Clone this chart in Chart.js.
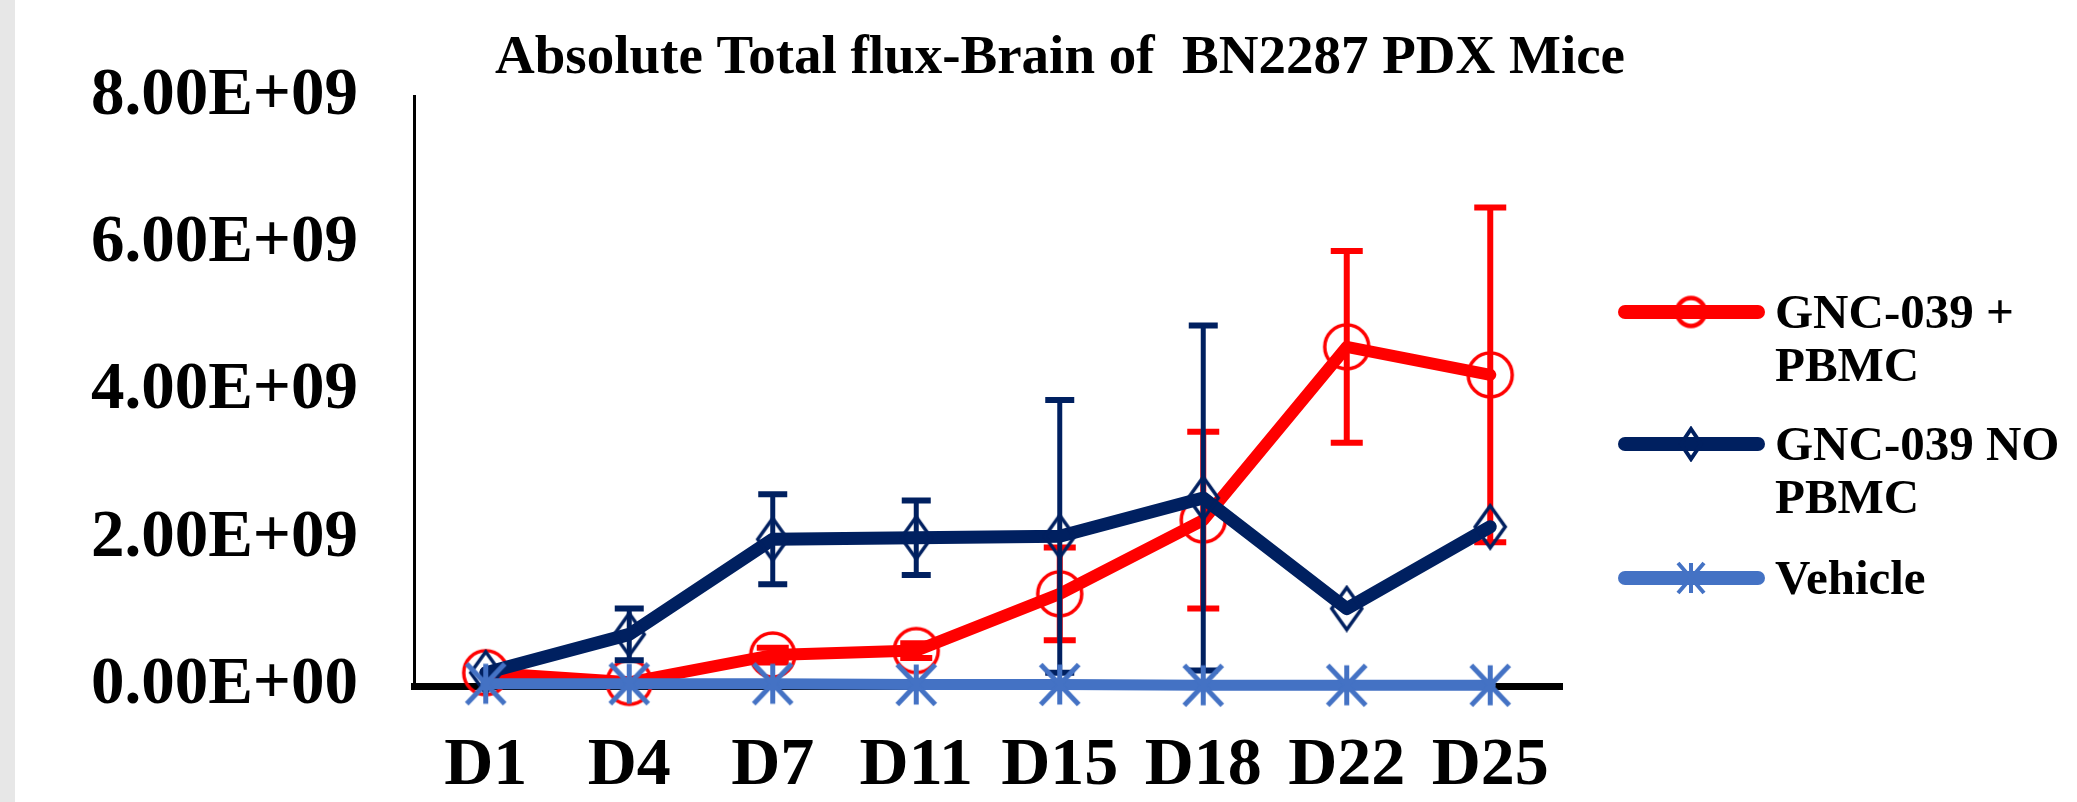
<!DOCTYPE html>
<html>
<head>
<meta charset="utf-8">
<script src="https://cdn.jsdelivr.net/npm/chart.js@4.4.1/dist/chart.umd.min.js"></script>
<style>
  html, body { margin: 0; padding: 0; overflow: hidden; }
  body { width: 2077px; height: 802px; background: linear-gradient(to right, #e7e7e7 0px, #e7e7e7 15px, #ffffff 15px); }
  canvas { display: block; }
</style>
</head>
<body>
<canvas id="c" width="2077" height="802"></canvas>
<script>
// ---- data ----
const chartTitle = 'Absolute Total flux-Brain of  BN2287 PDX Mice';
const categories = ['D1', 'D4', 'D7', 'D11', 'D15', 'D18', 'D22', 'D25'];
const yTickLabels = ['0.00E+00', '2.00E+09', '4.00E+09', '6.00E+09', '8.00E+09'];
const seriesLabels = [['GNC-039 +', 'PBMC'], ['GNC-039 NO', 'PBMC'], ['Vehicle']];
const pbmcValues = [0.18e9, 0.05e9, 0.42e9, 0.48e9, 1.25e9, 2.25e9, 4.60e9, 4.22e9];
const pbmcErrors = [0, 0, 0.10e9, 0.10e9, 0.63e9, 1.20e9, 1.30e9, 2.27e9];
const noPbmcValues = [0.18e9, 0.70e9, 1.99e9, 2.01e9, 2.03e9, 2.55e9, 1.05e9, 2.16e9];
const noPbmcErrors = [0, 0.35e9, 0.61e9, 0.505e9, 1.85e9, 2.34e9, 0, 0];
const vehicleValues = [0.03e9, 0.03e9, 0.03e9, 0.02e9, 0.02e9, 0.01e9, 0.01e9, 0.01e9];
const vehicleErrors = [0, 0, 0, 0, 0, 0, 0, 0];

// ---- styles ----
const RED = '#FF0000', NAVY = '#002060', LBLUE = '#4472C4';
const SERIF = '"Liberation Serif", "Times New Roman", serif';

function makeCircle(r, lw, color) {
  const s = Math.ceil(2 * r + lw + 2);
  const cv = document.createElement('canvas'); cv.width = s; cv.height = s;
  const g = cv.getContext('2d');
  g.strokeStyle = color; g.lineWidth = lw;
  g.beginPath(); g.arc(s / 2, s / 2, r, 0, Math.PI * 2); g.stroke();
  return cv;
}
function makeDiamond(w, h, lw, color) {
  const cw = Math.ceil(w + lw + 2), ch = Math.ceil(h + lw + 2);
  const cv = document.createElement('canvas'); cv.width = cw; cv.height = ch;
  const g = cv.getContext('2d');
  g.strokeStyle = color; g.lineWidth = lw; g.lineJoin = 'miter';
  const cx = cw / 2, cy = ch / 2;
  g.beginPath();
  g.moveTo(cx, cy - h / 2); g.lineTo(cx + w / 2, cy); g.lineTo(cx, cy + h / 2); g.lineTo(cx - w / 2, cy);
  g.closePath(); g.stroke();
  return cv;
}
function makeStar(w, h, lw, color) {
  const cw = Math.ceil(w + lw), ch = Math.ceil(h + lw);
  const cv = document.createElement('canvas'); cv.width = cw; cv.height = ch;
  const g = cv.getContext('2d');
  g.strokeStyle = color; g.lineWidth = lw; g.lineCap = 'butt';
  const cx = cw / 2, cy = ch / 2;
  g.beginPath();
  g.moveTo(cx, cy - h / 2); g.lineTo(cx, cy + h / 2);
  g.moveTo(cx - w / 2, cy - h / 2); g.lineTo(cx + w / 2, cy + h / 2);
  g.moveTo(cx + w / 2, cy - h / 2); g.lineTo(cx - w / 2, cy + h / 2);
  g.stroke();
  return cv;
}

const ptCircle = makeCircle(22, 3.5, RED);
const ptDiamond = makeDiamond(30, 42, 3.5, NAVY);
const ptStar = makeStar(38, 40, 5, LBLUE);
const lgCircle = makeCircle(14, 4.5, RED);
const lgDiamond = makeDiamond(20, 30, 4, NAVY);
const lgStar = makeStar(26, 30, 4, LBLUE);

const seriesErrors = [pbmcErrors, noPbmcErrors, vehicleErrors];
const errStyle = [
  { color: RED, stem: 6, cap: 32, capW: 6 },
  { color: NAVY, stem: 5, cap: 29, capW: 6 },
  { color: LBLUE, stem: 5, cap: 29, capW: 6 }
];

const errorBarPlugin = {
  id: 'errorBars',
  afterDatasetDraw(chart, args) {
    const i = args.index;
    const errs = seriesErrors[i];
    if (!errs) return;
    const ds = chart.data.datasets[i];
    const xs = chart.scales.x, ys = chart.scales.y;
    const st = errStyle[i];
    const ctx = chart.ctx;
    ctx.save();
    ctx.strokeStyle = st.color;
    ctx.lineCap = 'butt';
    ds.data.forEach((v, j) => {
      const e = errs[j];
      if (!e) return;
      const x = xs.getPixelForValue(j);
      const yt = ys.getPixelForValue(v + e);
      const yb = ys.getPixelForValue(Math.max(0, v - e));
      ctx.lineWidth = st.stem;
      ctx.beginPath(); ctx.moveTo(x, yt); ctx.lineTo(x, yb); ctx.stroke();
      ctx.lineWidth = st.capW;
      ctx.beginPath();
      ctx.moveTo(x - st.cap / 2, yt); ctx.lineTo(x + st.cap / 2, yt);
      ctx.moveTo(x - st.cap / 2, yb); ctx.lineTo(x + st.cap / 2, yb);
      ctx.stroke();
    });
    ctx.restore();
  }
};

const legendMarkers = [lgCircle, lgDiamond, lgStar];
const legendColors = [RED, NAVY, LBLUE];
const legendLineY = [312, 444, 578];
const titleLegendPlugin = {
  id: 'titleLegend',
  afterDraw(chart) {
    const ctx = chart.ctx;
    ctx.save();
    // title
    ctx.fillStyle = '#000';
    ctx.font = 'bold 55px ' + SERIF;
    ctx.textAlign = 'center';
    ctx.textBaseline = 'alphabetic';
    ctx.fillText(chartTitle, 1060, 73);
    // legend
    seriesLabels.forEach((lines, i) => {
      const y = legendLineY[i];
      ctx.strokeStyle = legendColors[i];
      ctx.lineWidth = 14;
      ctx.lineCap = 'round';
      ctx.beginPath(); ctx.moveTo(1625, y); ctx.lineTo(1758, y); ctx.stroke();
      const m = legendMarkers[i];
      ctx.drawImage(m, 1691 - m.width / 2, y - m.height / 2);
      ctx.fillStyle = '#000';
      ctx.font = 'bold 49px ' + SERIF;
      ctx.textAlign = 'left';
      lines.forEach((t, k) => {
        ctx.fillText(t, 1775, y + 16 + k * 53);
      });
    });
    ctx.restore();
  }
};

new Chart(document.getElementById('c'), {
  type: 'line',
  data: {
    labels: categories,
    datasets: [
      { label: seriesLabels[0].join(' '), data: pbmcValues, borderColor: RED, backgroundColor: 'transparent',
        borderWidth: 12, pointStyle: ptCircle, pointRadius: 20, order: 3, clip: false },
      { label: seriesLabels[1].join(' '), data: noPbmcValues, borderColor: NAVY, backgroundColor: 'transparent',
        borderWidth: 13, pointStyle: ptDiamond, pointRadius: 20, order: 2, clip: false },
      { label: seriesLabels[2].join(' '), data: vehicleValues, borderColor: LBLUE, backgroundColor: 'transparent',
        borderWidth: 11, pointStyle: ptStar, pointRadius: 20, order: 1, clip: false }
    ]
  },
  options: {
    responsive: false,
    animation: false,
    events: [],
    elements: { line: { tension: 0, borderJoinStyle: 'round', borderCapStyle: 'round' } },
    layout: { padding: { left: 0, top: 90, right: 515, bottom: 0 } },
    plugins: { legend: { display: false }, title: { display: false }, tooltip: { enabled: false } },
    scales: {
      x: {
        type: 'category',
        offset: true,
        grid: { display: false, drawTicks: false },
        border: { display: true, color: '#000', width: 7 },
        ticks: { color: '#000', font: { family: SERIF, size: 68, weight: 'bold' }, padding: 40, maxRotation: 0, autoSkip: false },
        afterFit(s) { s.height = 116; }
      },
      y: {
        min: 0, max: 8e9,
        grid: { display: false, drawTicks: false },
        border: { display: true, color: '#000', width: 3 },
        ticks: { stepSize: 2e9, color: '#000', font: { family: SERIF, size: 67, weight: 'bold' }, padding: 56,
          callback: (v, i) => yTickLabels[i] },
        afterFit(s) { s.width = 414; }
      }
    }
  },
  plugins: [errorBarPlugin, titleLegendPlugin]
});
</script>
</body>
</html>
